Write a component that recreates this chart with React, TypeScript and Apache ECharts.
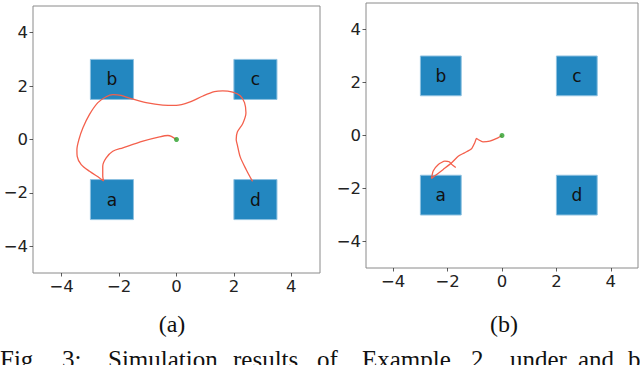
import React, { useEffect, useRef } from "react";
import * as echarts from "echarts";

// Target squares (lower-left corner, side length) and their labels
const squareNames = ["a", "b", "c", "d"];
const squareX = [-3, -3, 2, 2];
const squareY = [-3, 1.5, 1.5, -3];
const squareSide = 1.5;

// Axis ticks
const tickValues = [-4, -2, 0, 2, 4];

// Trajectory (a)
const pathAX = [0, -0.18, -0.3, -0.59, -1.17, -1.87, -2.22, -2.45, -2.57, -2.57, -2.54,
  -2.68, -3.03, -3.32, -3.46, -3.47, -3.4, -3.26, -3.03, -2.74, -2.45, -2.22, -1.93, -1.58,
  -1.06, -0.48, -0.01, 0.45, 0.92, 1.32, 1.61, 1.96, 2.22, 2.37, 2.42, 2.31, 2.12, 2.08,
  2.12, 2.22, 2.43, 2.65];
const pathAY = [0, 0.12, 0.15, 0.1, -0.06, -0.31, -0.44, -0.69, -1.0, -1.38, -1.55,
  -1.44, -1.19, -0.94, -0.63, -0.38, 0, 0.44, 0.94, 1.38, 1.6, 1.68, 1.65, 1.53,
  1.38, 1.29, 1.28, 1.4, 1.63, 1.79, 1.82, 1.77, 1.64, 1.38, 1.0, 0.6, 0.28, 0.0,
  -0.2, -0.65, -1.13, -1.57];

// Trajectory (b)
const pathBX = [0, -0.15, -0.45, -0.7, -0.88, -0.94, -1.0, -1.12, -1.37, -1.61, -1.85,
  -2.16, -2.4, -2.59, -2.53, -2.34, -2.1, -1.94, -1.85, -1.7];
const pathBY = [0, -0.09, -0.21, -0.24, -0.15, -0.11, -0.27, -0.5, -0.65, -0.78, -1.03,
  -1.28, -1.47, -1.62, -1.34, -1.09, -0.97, -0.99, -1.09, -1.21];

const startPoint = [0, 0];

const zip = (xs: number[], ys: number[]) => xs.map((x, i) => [x, ys[i]]);

export default function App() {
  const ref = useRef<HTMLDivElement>(null);
  useEffect(() => {
    document.body.style.margin = "0";
    const chart = echarts.init(ref.current!, null, { renderer: "svg" });
    const fmt = (v: number) => (v < 0 ? "\u2212" + Math.abs(v) : String(v));
    const mkX = (gi: number) => ({
      type: "value",
      gridIndex: gi,
      min: -5,
      max: 5,
      splitLine: { show: false },
      axisLine: { show: false, onZero: false },
      axisTick: { show: true, inside: false, length: 3.5, customValues: tickValues, lineStyle: { color: "#333", width: 0.8 } },
      axisLabel: { customValues: tickValues, formatter: fmt, fontFamily: "DejaVu Sans", fontSize: 16.5, color: "#222", margin: 5 },
    });
    const mkY = (gi: number) => ({
      type: "value",
      gridIndex: gi,
      min: -5,
      max: 5,
      splitLine: { show: false },
      axisLine: { show: false, onZero: false },
      axisTick: { show: true, inside: false, length: 3.5, customValues: tickValues, lineStyle: { color: "#333", width: 0.8 } },
      axisLabel: { customValues: tickValues, formatter: fmt, fontFamily: "DejaVu Sans", fontSize: 16.5, color: "#222", margin: 5 },
    });
    const squareData = squareNames.map((n, i) => [squareX[i], squareY[i], squareX[i] + squareSide, squareY[i] + squareSide, n]);
    const mkSquares = (gi: number) => ({
      type: "custom",
      xAxisIndex: gi,
      yAxisIndex: gi,
      z: 1,
      data: squareData,
      renderItem: (params: any, api: any) => {
        const p0 = api.coord([api.value(0), api.value(3)]);
        const p1 = api.coord([api.value(2), api.value(1)]);
        const name = squareNames[params.dataIndex];
        return {
          type: "group",
          children: [
            {
              type: "rect",
              shape: { x: p0[0], y: p0[1], width: p1[0] - p0[0], height: p1[1] - p0[1] },
              style: { fill: "#2387c0", stroke: "#8cc0e0", lineWidth: 1 },
            },
            {
              type: "text",
              x: (p0[0] + p1[0]) / 2,
              y: (p0[1] + p1[1]) / 2,
              style: { text: name, fill: "#111", fontSize: 17, fontFamily: "DejaVu Sans", align: "center", verticalAlign: "middle" },
            },
          ],
        };
      },
    });
    const mkPath = (gi: number, data: number[][], smooth: number) => ({
      type: "line",
      xAxisIndex: gi,
      yAxisIndex: gi,
      z: 3,
      data,
      smooth,
      showSymbol: false,
      symbol: "none",
      lineStyle: { color: "#f4604c", width: 1.3 },
    });
    const mkDot = (gi: number) => ({
      type: "scatter",
      xAxisIndex: gi,
      yAxisIndex: gi,
      z: 4,
      data: [startPoint],
      symbolSize: 5,
      itemStyle: { color: "#2ca02c" },
    });
    const serif = "'Liberation Serif', 'Times New Roman', serif";
    const captionWords: [string, number][] = [
      ["Fig.", 0], ["3:", 62], ["Simulation", 108], ["results", 233], ["of", 317],
      ["Example", 362], ["2", 471], ["under", 510], ["and", 578], ["b", 628],
    ];
    chart.setOption({
      animation: false,
      backgroundColor: "#fff",
      grid: [
        { left: 33, top: 6, width: 287, height: 267, show: true, borderColor: "#8a8a8a", borderWidth: 1, backgroundColor: "transparent" },
        { left: 366, top: 3, width: 272, height: 265, show: true, borderColor: "#8a8a8a", borderWidth: 1, backgroundColor: "transparent" },
      ],
      xAxis: [mkX(0), mkX(1)],
      yAxis: [mkY(0), mkY(1)],
      series: [
        mkSquares(0),
        mkSquares(1),
        mkPath(0, zip(pathAX, pathAY), 0.3),
        mkPath(1, zip(pathBX, pathBY), 0.2),
        mkDot(0),
        mkDot(1),
      ],
      graphic: [
        { type: "text", x: 172, y: 324, style: { text: "(a)", font: `24px ${serif}`, fill: "#111", align: "center", verticalAlign: "middle" } },
        { type: "text", x: 504, y: 324, style: { text: "(b)", font: `24px ${serif}`, fill: "#111", align: "center", verticalAlign: "middle" } },
        ...captionWords.map(([w, x]) => ({
          type: "text",
          x,
          y: 347,
          style: { text: w, font: `25px ${serif}`, fill: "#111", align: "left", verticalAlign: "top" },
        })),
      ],
    });
    return () => chart.dispose();
  }, []);
  return <div ref={ref} style={{ width: 640, height: 365 }} />;
}
